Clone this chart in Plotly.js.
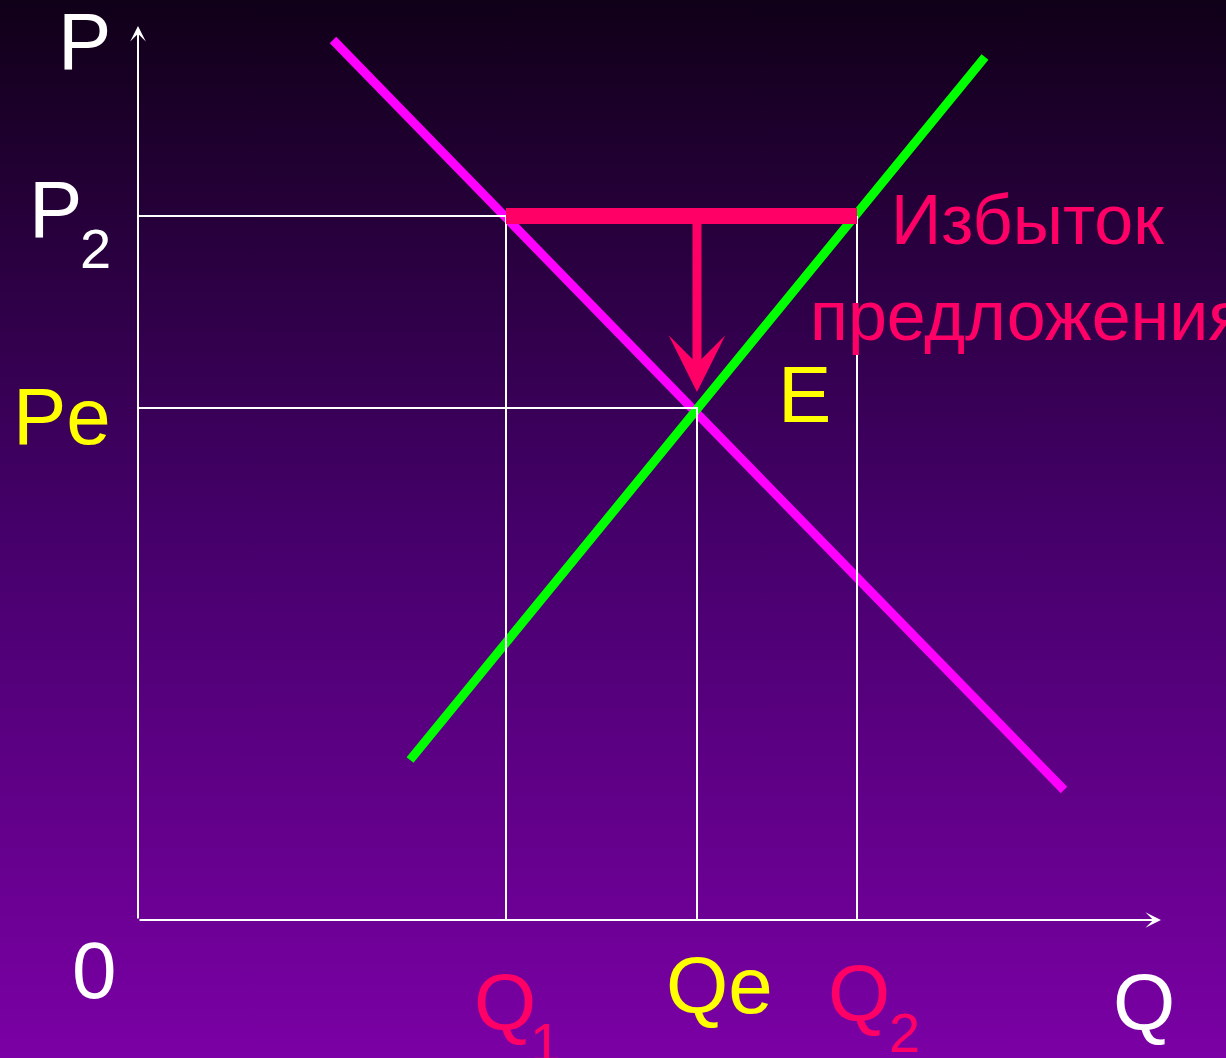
<!DOCTYPE html>
<html>
<head>
<meta charset="utf-8">
<script src="https://cdn.plot.ly/plotly-3.0.1.min.js"></script>
<style>
  html, body { margin: 0; padding: 0; width: 1226px; height: 1058px; overflow: hidden;
    background: linear-gradient(to bottom, #100018 0%, #45006a 50%, #7b00a5 100%); }
  #chart { width: 1226px; height: 1058px; }
</style>
</head>
<body>
<div id="chart"></div>
<script>
// ---- data (quantity Q, price P) ----
const demandQ = [19.5, 92.6];
const demandP = [88.0, 13.0];
const supplyQ = [27.2, 84.7];
const supplyP = [16.0, 86.3];
const Q1 = 36.8, Qe = 55.9, Q2 = 71.9;
const P2 = 70.4, Pe = 51.2;
const Qmax = 102.3, Pmax = 89.4;
const arrowTipP = 52.8;
const surplusLabel = ["Избыток", "предложения"];

const WHITE = "#ffffff", RED = "#ff0066", YELLOW = "#ffff00";
const FONT = "Liberation Sans, Arial, sans-serif";

function seg(x, y, color, width) {
  return { x: x, y: y, type: "scatter", mode: "lines", hoverinfo: "skip",
           line: { color: color, width: width }, showlegend: false };
}

const traces = [
  seg(demandQ, demandP, "#ff00ff", 9),
  seg(supplyQ, supplyP, "#00ff00", 9),
  seg([0, Q1, Q1], [P2, P2, 0], WHITE, 2),
  seg([0, Qe, Qe], [Pe, Pe, 0], WHITE, 2),
  seg([Q2, Q2], [P2, 0], WHITE, 2),
  seg([Q1, Q2], [P2, P2], RED, 16)
];

function label(text, x, y, color, size, xanchor) {
  return { text: text, x: x, y: y, xref: "x", yref: "y", showarrow: false,
           xanchor: xanchor || "center", yanchor: "middle",
           font: { family: FONT, size: size, color: color } };
}
function arrow(x, y, ax, ay, color, width, head, size) {
  return { text: "", x: x, y: y, ax: ax, ay: ay, xref: "x", yref: "y",
           axref: "x", ayref: "y", showarrow: true, arrowhead: head,
           arrowsize: size, arrowwidth: width, arrowcolor: color, standoff: 0 };
}

const annotations = [
  arrow(0, Pmax, 0, 0, WHITE, 2, 3, 1.3),
  arrow(Qmax, 0, 0, 0, WHITE, 2, 3, 1.3),
  arrow(Qe, arrowTipP, Qe, P2, RED, 9, 3, 1.05),
  label("P", -5.35, 87.85, WHITE, 80),
  label("P", -8.25, 71.1, WHITE, 80),
  label("2", -4.25, 67.2, WHITE, 56),
  label("Pe", -7.6, 50.35, YELLOW, 80),
  label("E", 66.65, 52.6, YELLOW, 80),
  label("0", -4.4, -5.0, WHITE, 80),
  label("Q", 36.65, -8.2, RED, 80),
  label("1", 40.7, -12.2, RED, 56),
  label("Qe", 58.1, -6.5, YELLOW, 80),
  label("Q", 72.05, -7.3, RED, 80),
  label("2", 76.65, -11.2, RED, 56),
  label("Q", 100.55, -8.2, WHITE, 80),
  label(surplusLabel[0], 75.1, 70.03, RED, 70, "left"),
  label(surplusLabel[1], 67.0, 60.43, RED, 70, "left")
];

const layout = {
  width: 1226, height: 1058,
  margin: { l: 0, r: 0, t: 0, b: 0, pad: 0 },
  paper_bgcolor: "rgba(0,0,0,0)", plot_bgcolor: "rgba(0,0,0,0)",
  showlegend: false,
  xaxis: { range: [-13.8, 108.8], visible: false, fixedrange: true },
  yaxis: { range: [-13.8, 92.0], visible: false, fixedrange: true },
  annotations: annotations
};

Plotly.newPlot("chart", traces, layout, { displayModeBar: false, staticPlot: true });
</script>
</body>
</html>
